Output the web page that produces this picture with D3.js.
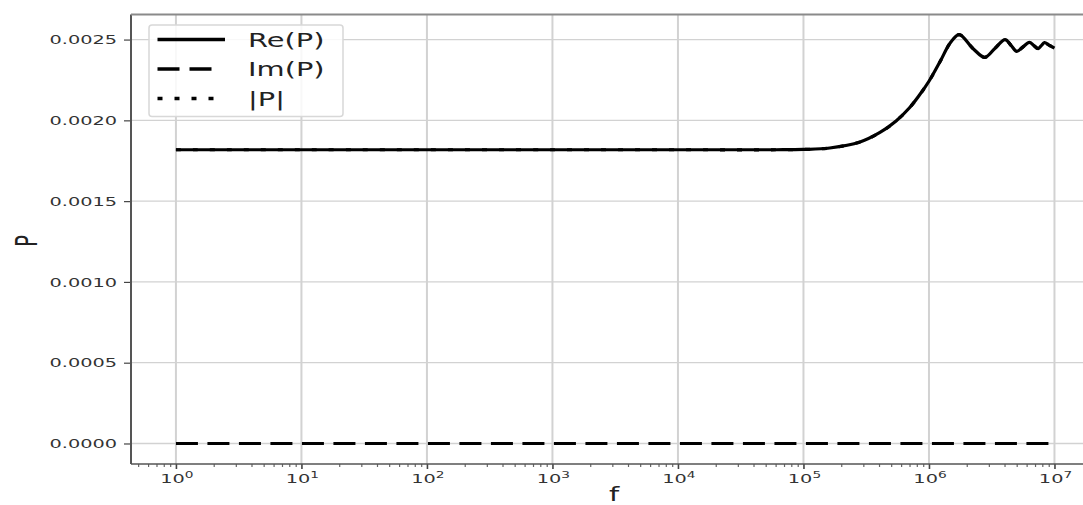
<!DOCTYPE html>
<html>
<head>
<meta charset="utf-8">
<script src="https://cdn.jsdelivr.net/npm/d3@7"></script>
<style>
  html, body { margin: 0; padding: 0; background: #fff; overflow: hidden; }
  svg { display: block; font-family: "DejaVu Sans", sans-serif; }
</style>
</head>
<body>
<svg id="chart" width="1083" height="505"></svg>
<script>
// Frequency sweep (Hz) and the real part of P at each frequency
const freq = [1, 1e4, 6.03e4, 1e5, 1.62e5, 2.82e5, 4.07e5, 5.5e5, 7.0e5, 8.32e5,
  1e6, 1.23e6, 1.48e6, 1.74e6, 2.24e6, 2.79e6, 3.35e6, 4.04e6, 4.52e6, 5.01e6,
  5.62e6, 6.31e6, 6.84e6, 7.41e6, 7.85e6, 8.32e6, 9.12e6, 1e7];
const reP = [0.001818, 0.001818, 0.001818, 0.00182, 0.001829, 0.001866, 0.001925,
  0.001998, 0.002078, 0.002152, 0.002242, 0.002366, 0.00248, 0.002531, 0.002445,
  0.00239, 0.002445, 0.0025, 0.002463, 0.002427, 0.002455, 0.002483, 0.002463,
  0.002444, 0.002462, 0.002481, 0.002464, 0.002447];
// Imaginary part is zero across the sweep
const imFreq = [1, 1e7];
const imP = [0, 0];
// Magnitude equals the real part here (imaginary part is zero)
const absP = reP.slice();

const seriesNames = ["Re(P)", "Im(P)", "|P|"];
const yTicks = [0, 0.0005, 0.0010, 0.0015, 0.0020, 0.0025];
const xTickExps = [0, 1, 2, 3, 4, 5, 6, 7];

// Horizontal text stretch of the figure
const SX = 1.52;

const svg = d3.select("#chart");
const plotL = 131, plotR = 1098, plotT = 14.5, plotB = 464;

const x = d3.scaleLog().domain([Math.pow(10, -0.35), Math.pow(10, 7.35)]).range([132, 1098.4]);
const y = d3.scaleLinear().domain([-0.000127, 0.002657]).range([464, 14.2]);

function stretchedText(g, px, py) {
  return g.append("text").attr("transform", `translate(${px},${py}) scale(${SX},1)`);
}

// Grid
const grid = svg.append("g");
xTickExps.forEach(e => {
  grid.append("line")
    .attr("x1", x(Math.pow(10, e))).attr("x2", x(Math.pow(10, e)))
    .attr("y1", plotT).attr("y2", plotB)
    .attr("stroke", "#d2d2d2").attr("stroke-width", 2);
});
yTicks.forEach(v => {
  grid.append("line")
    .attr("x1", plotL).attr("x2", plotR)
    .attr("y1", y(v)).attr("y2", y(v))
    .attr("stroke", "#d2d2d2").attr("stroke-width", 1.3);
});

// Series
const line = d3.line().x(d => x(d[0])).y(d => y(d[1])).curve(d3.curveCatmullRom.alpha(0.5));
const lineStraight = d3.line().x(d => x(d[0])).y(d => y(d[1]));

svg.append("path")
  .datum(freq.map((f, i) => [f, reP[i]]))
  .attr("d", line).attr("fill", "none")
  .attr("stroke", "#000").attr("stroke-width", 3.2).attr("stroke-linejoin", "round");

svg.append("path")
  .datum(imFreq.map((f, i) => [f, imP[i]]))
  .attr("d", lineStraight).attr("fill", "none")
  .attr("stroke", "#000").attr("stroke-width", 3.2).attr("stroke-dasharray", "22,9.5");

svg.append("path")
  .datum(freq.map((f, i) => [f, absP[i]]))
  .attr("d", line).attr("fill", "none")
  .attr("stroke", "#000").attr("stroke-width", 3.2).attr("stroke-dasharray", "5,12");

// Y axis ticks and labels
const yAxis = d3.axisLeft(y).tickValues(yTicks).tickFormat("").tickSize(7);
const gy = svg.append("g").attr("transform", `translate(${plotL},0)`).call(yAxis);
gy.select(".domain").remove();
gy.selectAll(".tick line").attr("stroke", "#444").attr("stroke-width", 1.2);
const fmtY = d3.format(".4f");
yTicks.forEach(v => {
  stretchedText(svg, 117, y(v) + 4.6)
    .attr("text-anchor", "end").attr("fill", "#333")
    .style("font-size", "12.7px").text(fmtY(v));
});

// X axis ticks
const xMajor = xTickExps.map(e => Math.pow(10, e));
const xAxis = d3.axisBottom(x).tickValues(xMajor).tickFormat("").tickSize(5);
const gx = svg.append("g").attr("transform", `translate(0,${plotB})`).call(xAxis);
gx.select(".domain").remove();
gx.selectAll(".tick line").attr("stroke", "#444").attr("stroke-width", 1.6);

// Minor ticks on the log axis
const minor = x.ticks().filter(t => !xMajor.some(m => Math.abs(m - t) / m < 1e-9));
const xMinor = d3.axisBottom(x).tickValues(minor).tickFormat("").tickSize(3);
const gxm = svg.append("g").attr("transform", `translate(0,${plotB})`).call(xMinor);
gxm.select(".domain").remove();
gxm.selectAll(".tick line").attr("stroke", "#666").attr("stroke-width", 1.2);

// Power-of-ten labels
xTickExps.forEach(e => {
  const t = stretchedText(svg, x(Math.pow(10, e)) + 1, 482.5)
    .attr("text-anchor", "middle").attr("fill", "#333")
    .style("font-size", "12.7px");
  t.append("tspan").text("10");
  t.append("tspan").attr("dy", -5).style("font-size", "9px").text(e);
});

// Spines
svg.append("line").attr("x1", plotL).attr("x2", plotL).attr("y1", plotT).attr("y2", plotB)
  .attr("stroke", "#555").attr("stroke-width", 2);
svg.append("line").attr("x1", plotL).attr("x2", plotR).attr("y1", plotB).attr("y2", plotB)
  .attr("stroke", "#555").attr("stroke-width", 1.6);
svg.append("line").attr("x1", plotL).attr("x2", plotR).attr("y1", plotT).attr("y2", plotT)
  .attr("stroke", "#8a8a8a").attr("stroke-width", 2);

// Axis labels
stretchedText(svg, 614, 501).attr("text-anchor", "middle")
  .attr("fill", "#222").style("font-size", "19px").text("f");
svg.append("text")
  .attr("transform", `translate(37,241) scale(${SX},1) rotate(-90)`)
  .attr("text-anchor", "middle")
  .attr("fill", "#222").style("font-size", "20px").text("P");

// Legend
const lg = svg.append("g");
lg.append("rect").attr("x", 149).attr("y", 25).attr("width", 194).attr("height", 91.5)
  .attr("rx", 3).attr("fill", "#fff").attr("fill-opacity", 0.85)
  .attr("stroke", "#d8d8d8").attr("stroke-width", 1.5);
const legendRows = [
  { x2: 225, dash: null },
  { x2: 214, dash: "22,10" },
  { x2: 214, dash: "5,12" }
];
seriesNames.forEach((name, i) => {
  const ly = 39.5 + i * 29.5;
  const l = lg.append("line").attr("x1", 157.5).attr("x2", legendRows[i].x2)
    .attr("y1", ly).attr("y2", ly)
    .attr("stroke", "#000").attr("stroke-width", 3.4);
  if (legendRows[i].dash) l.attr("stroke-dasharray", legendRows[i].dash);
  stretchedText(lg, 248, ly + 7.2).attr("fill", "#222")
    .style("font-size", "19px").text(name);
});
</script>
</body>
</html>
